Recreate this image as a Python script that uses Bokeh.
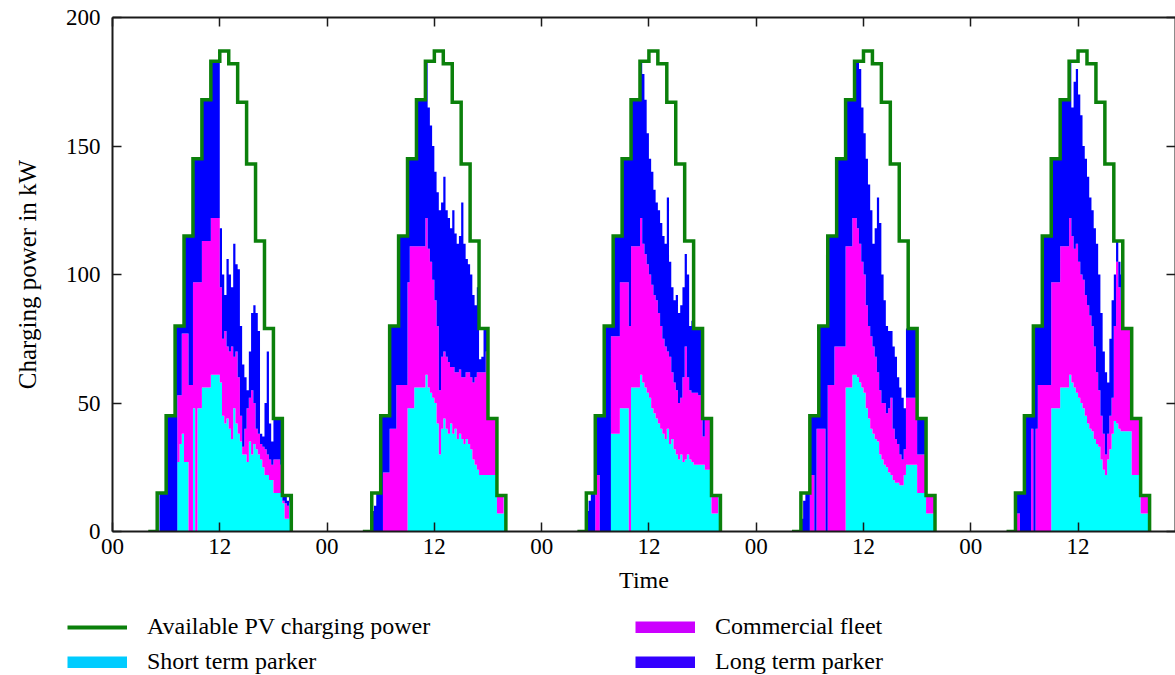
from bokeh.plotting import figure
from bokeh.layouts import column
from bokeh.models import ColumnDataSource, FixedTicker, LinearAxis, Legend, LegendItem, Range1d
from bokeh.transform import stack
from bokeh.embed import file_html
from bokeh.resources import INLINE

# Available PV charging power (kW), hourly steps from 04:00 to 20:00, identical each day
pv_hours = [4, 5, 6, 7, 8, 9, 10, 11, 12, 13, 14, 15, 16, 17, 18, 19, 20]
pv_kw = [0, 15, 45, 80, 115, 145, 168, 183, 187, 182, 167, 143, 113, 79, 44, 14, 0]

# Charging power per user group (kW), quarter-hour slots 05:00 ... 19:45, one list per day
short_d1 = [0, 0, 0, 0, 0, 0, 0, 0, 0, 27, 34, 38, 27, 27, 0, 0, 48, 0, 48, 48,
            56, 56, 56, 56, 61, 61, 61, 61, 58, 45, 42, 44, 40, 36, 48, 42, 38, 35, 30, 30,
            27, 35, 30, 34, 32, 30, 28, 25, 22, 22, 20, 20, 15, 15, 15, 15, 11, 5, 5, 11]
fleet_d1 = [0, 0, 0, 0, 0, 0, 0, 0, 0, 26, 19, 39, 50, 50, 57, 57, 49, 97, 49, 49,
            57, 57, 57, 57, 61, 61, 61, 61, 37, 30, 36, 28, 30, 36, 20, 28, 22, 10, 3, 10,
            21, 17, 25, 16, 8, 8, 6, 8, 10, 8, 8, 6, 13, 13, 13, 11, 1, 6, 5, 1]
long_d1 = [0, 15, 15, 15, 45, 45, 45, 45, 80, 27, 27, 3, 38, 38, 58, 58, 48, 48, 48, 48,
           55, 55, 55, 55, 61, 61, 61, 61, 23, 25, 14, 34, 30, 23, 44, 34, 42, 35, 32, 20,
           7, 18, 30, 38, 45, 40, 4, 4, 18, 40, 14, 9, 16, 16, 16, 18, 2, 3, 2, 2]

short_d2 = [0, 0, 0, 0, 0, 0, 0, 0, 0, 0, 0, 0, 0, 0, 0, 0, 48, 48, 48, 56,
            56, 56, 56, 56, 61, 56, 54, 52, 50, 42, 30, 40, 44, 40, 38, 42, 38, 40, 36, 38,
            36, 34, 36, 34, 32, 28, 26, 24, 22, 22, 22, 22, 22, 22, 22, 22, 7, 7, 7, 14]
fleet_d2 = [0, 0, 0, 0, 0, 23, 23, 23, 40, 40, 40, 57, 57, 57, 57, 57, 49, 63, 63, 55,
            55, 55, 55, 55, 61, 54, 51, 46, 40, 38, 25, 28, 26, 28, 28, 22, 26, 22, 26, 25,
            24, 26, 26, 28, 28, 30, 34, 38, 40, 40, 40, 48, 22, 22, 22, 22, 7, 7, 7, 0]
long_d2 = [8, 10, 15, 15, 45, 22, 22, 22, 40, 40, 40, 23, 58, 58, 58, 58, 48, 34, 34, 34,
           57, 57, 57, 57, 61, 55, 53, 52, 50, 52, 70, 60, 68, 57, 56, 54, 61, 54, 50, 52,
           68, 52, 44, 42, 40, 34, 28, 33, 5, 6, 17, 9, 0, 0, 0, 0, 0, 0, 0, 0]

short_d3 = [0, 0, 0, 0, 0, 0, 0, 0, 0, 0, 0, 38, 38, 38, 38, 48, 48, 48, 48, 0,
            56, 56, 56, 56, 61, 58, 56, 54, 52, 48, 46, 44, 42, 40, 38, 36, 40, 34, 36, 32,
            30, 28, 30, 27, 28, 30, 28, 27, 26, 26, 26, 26, 26, 24, 24, 24, 7, 7, 7, 14]
fleet_d3 = [0, 0, 0, 0, 22, 22, 0, 0, 0, 0, 0, 38, 38, 38, 38, 49, 49, 49, 49, 80,
            55, 55, 55, 55, 61, 54, 52, 50, 48, 48, 46, 46, 43, 40, 37, 36, 30, 34, 26, 26,
            25, 22, 22, 33, 44, 30, 27, 27, 28, 28, 27, 27, 11, 20, 20, 20, 7, 7, 7, 0]
long_d3 = [8, 12, 15, 15, 23, 23, 45, 45, 80, 80, 80, 4, 39, 39, 39, 18, 48, 48, 48, 65,
           57, 57, 57, 57, 61, 66, 60, 51, 45, 44, 41, 38, 40, 40, 40, 40, 60, 37, 33, 32,
           37, 35, 36, 35, 36, 40, 25, 28, 25, 25, 26, 26, 7, 0, 0, 0, 0, 0, 0, 0]

short_d4 = [0, 0, 0, 0, 0, 0, 0, 0, 0, 0, 0, 0, 0, 0, 0, 0, 0, 0, 0, 0,
            56, 56, 56, 61, 61, 60, 58, 56, 54, 48, 44, 40, 38, 36, 35, 30, 28, 26, 25, 23,
            22, 20, 19, 19, 18, 18, 22, 26, 26, 26, 26, 26, 15, 15, 15, 15, 7, 7, 7, 7]
fleet_d4 = [0, 0, 0, 0, 22, 22, 0, 40, 40, 40, 40, 0, 57, 57, 57, 72, 72, 72, 72, 72,
            55, 55, 55, 61, 61, 58, 54, 49, 46, 40, 36, 36, 34, 32, 27, 25, 22, 24, 21, 25,
            30, 20, 17, 15, 12, 10, 10, 26, 26, 26, 26, 26, 15, 15, 15, 15, 7, 7, 7, 7]
long_d4 = [5, 12, 15, 15, 23, 23, 45, 5, 40, 40, 40, 80, 58, 58, 58, 43, 73, 73, 73, 73,
           57, 57, 57, 46, 61, 65, 68, 60, 55, 57, 55, 49, 40, 50, 68, 65, 50, 40, 34, 30,
           26, 32, 32, 26, 26, 24, 16, 27, 27, 27, 27, 27, 14, 14, 14, 14, 0, 0, 0, 0]

short_d5 = [0, 0, 0, 0, 0, 0, 0, 0, 0, 0, 0, 0, 0, 0, 0, 0, 48, 48, 48, 48,
            56, 56, 56, 56, 61, 58, 56, 54, 52, 50, 48, 45, 42, 40, 39, 36, 34, 33, 28, 24,
            22, 28, 32, 38, 43, 42, 40, 39, 39, 39, 39, 39, 22, 22, 22, 22, 7, 7, 7, 7]
fleet_d5 = [7, 7, 0, 0, 0, 0, 0, 40, 0, 40, 57, 57, 57, 57, 57, 57, 49, 49, 49, 49,
            55, 55, 55, 55, 61, 57, 54, 58, 53, 50, 50, 47, 46, 44, 41, 36, 28, 22, 17, 14,
            8, 10, 13, 14, 37, 63, 55, 51, 40, 40, 40, 40, 22, 22, 22, 22, 7, 7, 7, 7]
long_d5 = [8, 8, 15, 15, 45, 45, 45, 5, 80, 40, 23, 23, 58, 58, 58, 58, 48, 48, 48, 48,
           57, 57, 57, 57, 61, 50, 65, 68, 65, 62, 52, 53, 50, 46, 45, 46, 50, 45, 40, 32,
           32, 20, 30, 38, 20, 8, 10, 10, 0, 0, 0, 0, 0, 0, 0, 0, 0, 0, 0, 0]

short_days = [short_d1, short_d2, short_d3, short_d4, short_d5]
fleet_days = [fleet_d1, fleet_d2, fleet_d3, fleet_d4, fleet_d5]
long_days = [long_d1, long_d2, long_d3, long_d4, long_d5]

x_ticks = [0, 12, 24, 36, 48, 60, 72, 84, 96, 108]
x_tick_labels = ["00", "12", "00", "12", "00", "12", "00", "12", "00", "12"]
y_ticks = [0, 50, 100, 150, 200]

FIRST_SLOT_H = 5.0
SLOT_H = 0.25

# one long time series: each day's slots followed by a closing zero at 20:00
t, short, fleet, long_ = [], [], [], []
for d in range(len(short_days)):
    n = len(short_days[d])
    for k in range(n):
        t.append(24 * d + FIRST_SLOT_H + SLOT_H * k)
        short.append(short_days[d][k])
        fleet.append(fleet_days[d][k])
        long_.append(long_days[d][k])
    t.append(24 * d + FIRST_SLOT_H + SLOT_H * n)
    short.append(0)
    fleet.append(0)
    long_.append(0)

src = ColumnDataSource(dict(t=t, short=short, fleet=fleet, long=long_))

FONT = "Liberation Serif"
AXIS_COLOR = "#1a1a1a"
PV_COLOR = "#0b800b"

p = figure(width=1175, height=600, output_backend="svg", toolbar_location=None,
           x_range=Range1d(0, 118.9), y_range=Range1d(0, 200),
           min_border_left=112, min_border_right=0, min_border_top=17, min_border_bottom=69,
           x_axis_label="Time", y_axis_label="Charging power in kW")
p.frame_align = False
p.grid.visible = False
p.outline_line_color = None
p.background_fill_color = "white"
p.border_fill_color = "white"

stack_cols = ["short", "fleet", "long"]
area_colors = ["#00FFFF", "#FF00FF", "#0000FF"]
for i, col in enumerate(stack_cols):
    p.varea_step(x="t", y1=stack(*stack_cols[:i]), y2=stack(*stack_cols[:i + 1]),
                 step_mode="after", source=src, fill_color=area_colors[i])

for d in range(len(short_days)):
    p.step(x=[24 * d + h for h in pv_hours], y=pv_kw, mode="after",
           line_color=PV_COLOR, line_width=3.5, line_join="miter")


def style_axis(ax, show_labels):
    ax.axis_line_color = AXIS_COLOR
    ax.axis_line_width = 2
    ax.major_tick_line_color = AXIS_COLOR
    ax.major_tick_line_width = 1.5
    ax.major_tick_in = 9
    ax.major_tick_out = 0
    ax.minor_tick_line_color = None
    if not show_labels:
        ax.major_label_text_font_size = "1px"
        ax.major_label_text_color = None
        ax.major_label_standoff = 0


xticker = FixedTicker(ticks=x_ticks)
yticker = FixedTicker(ticks=y_ticks)

xa = p.xaxis[0]
xa.ticker = xticker
xa.major_label_overrides = dict(zip(x_ticks, x_tick_labels))
style_axis(xa, True)
xa.major_label_text_font = FONT
xa.major_label_text_font_size = "23px"
xa.major_label_text_color = "black"
xa.major_label_standoff = 7
xa.axis_label_text_font = FONT
xa.axis_label_text_font_size = "24px"
xa.axis_label_text_font_style = "normal"
xa.axis_label_text_color = "black"
xa.axis_label_standoff = 10

ya = p.yaxis[0]
ya.ticker = yticker
style_axis(ya, True)
ya.major_label_text_font = FONT
ya.major_label_text_font_size = "23px"
ya.major_label_text_color = "black"
ya.major_label_standoff = 12
ya.axis_label_text_font = FONT
ya.axis_label_text_font_size = "25px"
ya.axis_label_text_font_style = "normal"
ya.axis_label_text_color = "black"
ya.axis_label_standoff = 22

top_ax = LinearAxis(ticker=xticker)
style_axis(top_ax, False)
p.add_layout(top_ax, "above")
right_ax = LinearAxis(ticker=yticker)
style_axis(right_ax, False)
p.add_layout(right_ax, "right")

# legend strip under the chart; swatch glyphs sit outside the strip's visible range
lg = figure(width=1175, height=75, output_backend="svg", toolbar_location=None,
            x_range=Range1d(0, 1), y_range=Range1d(0, 1), min_border=0,
            x_axis_location=None, y_axis_location=None)
lg.frame_align = False
lg.grid.visible = False
lg.outline_line_color = None
off = [5, 6]
sw_pv = lg.line(x=off, y=off, line_color=PV_COLOR, line_width=4, line_cap="butt")
sw_short = lg.line(x=off, y=off, line_color="#00CCFF", line_width=12, line_cap="butt")
sw_fleet = lg.line(x=off, y=off, line_color="#CC00FF", line_width=12, line_cap="butt")
sw_long = lg.line(x=off, y=off, line_color="#3300FF", line_width=12, line_cap="butt")

legend = Legend(items=[
    LegendItem(label="Available PV charging power", renderers=[sw_pv]),
    LegendItem(label="Short term parker", renderers=[sw_short]),
    LegendItem(label="Commercial fleet", renderers=[sw_fleet]),
    LegendItem(label="Long term parker", renderers=[sw_long]),
], location=(67, 0), orientation="vertical", nrows=2,
    glyph_width=60, glyph_height=12, label_standoff=20, label_width=480, label_height=26,
    spacing=8, padding=0, margin=0, border_line_color=None, background_fill_alpha=0,
    label_text_font=FONT, label_text_font_size="24px", label_text_color="black")
lg.add_layout(legend, "center")

open("out.html", "w").write(file_html(column(p, lg), INLINE))
